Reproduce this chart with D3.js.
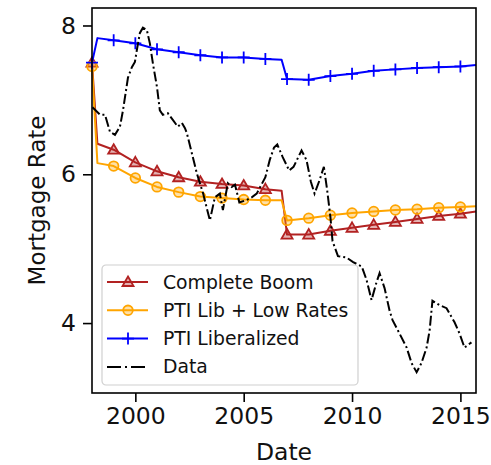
<!DOCTYPE html>
<html>
<head>
<meta charset="utf-8">
<script src="https://cdn.jsdelivr.net/npm/d3@7"></script>
<style>
  body { margin: 0; background: #fff; }
  text { font-family: "DejaVu Sans", sans-serif; fill: #111; }
</style>
</head>
<body>
<div class="graph-container"></div>
<script>
const width = 491,
    height = 465;

const margin = { top: 8, right: 15, bottom: 72, left: 92 };

// model dates (decimal years) shared by the three simulated series
const modelYears = [1998, 1998.25, 1999, 2000, 2001, 2002, 2003, 2004, 2005, 2006, 2006.75,
    2007, 2008, 2009, 2010, 2011, 2012, 2013, 2014, 2015, 2015.72];
const completeBoom = [7.5, 6.41, 6.33, 6.16, 6.04, 5.96, 5.90, 5.87, 5.85, 5.80, 5.78,
    5.19, 5.19, 5.24, 5.28, 5.32, 5.36, 5.40, 5.44, 5.47, 5.50];
const ptiLibLowRates = [7.45, 6.15, 6.11, 5.95, 5.83, 5.76, 5.70, 5.68, 5.66, 5.65, 5.65,
    5.38, 5.41, 5.45, 5.48, 5.50, 5.52, 5.53, 5.55, 5.56, 5.57];
const ptiLiberalized = [7.5, 7.83, 7.80, 7.76, 7.68, 7.64, 7.60, 7.57, 7.57, 7.55, 7.54,
    7.28, 7.27, 7.32, 7.35, 7.39, 7.41, 7.43, 7.44, 7.45, 7.47];

// observed mortgage rate
const dataYears = [1998.02, 1998.37, 1998.6, 1998.83, 1999.06, 1999.29, 1999.43, 1999.66, 1999.84, 1999.98,
    2000.07, 2000.21, 2000.35, 2000.53, 2000.67, 2000.81, 2001.0, 2001.13, 2001.27, 2001.5,
    2001.73, 2001.96, 2002.15, 2002.29, 2002.38, 2002.61, 2002.84, 2003.12, 2003.44, 2003.67,
    2003.9, 2004.04, 2004.27, 2004.45, 2004.6, 2004.8, 2005.1, 2005.37, 2005.6, 2005.8,
    2006.0, 2006.2, 2006.4, 2006.55, 2006.8, 2007.1, 2007.3, 2007.67, 2007.9, 2008.1,
    2008.27, 2008.5, 2008.7, 2008.85, 2009.0, 2009.1, 2009.35, 2009.75, 2010.05, 2010.45,
    2010.67, 2010.9, 2011.13, 2011.27, 2011.5, 2011.73, 2011.87, 2012.19, 2012.52, 2012.75,
    2012.98, 2013.2, 2013.44, 2013.58, 2013.71, 2014.04, 2014.36, 2014.73, 2014.96, 2015.19, 2015.51];
const dataRates = [6.9, 6.8, 6.8, 6.57, 6.53, 6.64, 6.86, 7.3, 7.44, 7.51,
    7.67, 7.9, 7.97, 7.94, 7.76, 7.49, 7.17, 6.86, 6.8, 6.82,
    6.73, 6.64, 6.69, 6.62, 6.55, 6.28, 6.01, 5.75, 5.38, 5.69,
    5.74, 5.52, 5.88, 5.83, 5.86, 5.62, 5.65, 5.69, 5.74, 5.85,
    5.96, 6.19, 6.36, 6.4, 6.23, 6.05, 6.1, 6.32, 6.19, 5.9,
    5.74, 5.92, 6.1, 5.79, 5.43, 5.1, 4.9, 4.88, 4.82, 4.76,
    4.58, 4.31, 4.55, 4.67, 4.47, 4.17, 4.04, 3.86, 3.67, 3.46,
    3.34, 3.46, 3.67, 3.9, 4.3, 4.24, 4.2, 4.01, 3.86, 3.67, 3.74];

const xTicks = [2000, 2005, 2010, 2015];
const yTicks = [4, 6, 8];
const legendLabels = ["Complete Boom", "PTI Lib + Low Rates", "PTI Liberalized", "Data"];

const series = [
    { name: legendLabels[0], values: completeBoom, color: "#b22222", marker: "triangle" },
    { name: legendLabels[1], values: ptiLibLowRates, color: "#ffa500", marker: "circle" },
    { name: legendLabels[2], values: ptiLiberalized, color: "#0000ff", marker: "plus" }
];

const svg = d3.select(".graph-container")
    .append("svg")
    .attr("width", width)
    .attr("height", height);

const x = d3.scaleLinear()
    .domain([1998, 2015.72])
    .range([margin.left, width - margin.right]);

const y = d3.scaleLinear()
    .domain([3.06, 8.235])
    .range([height - margin.bottom, margin.top]);

const line = d3.line()
    .x(d => x(d[0]))
    .y(d => y(d[1]));

// markers
function drawMarker(g, type, color) {
    if (type === "triangle") {
        g.append("path")
            .attr("d", "M0,-5.5L5.5,4L-5.5,4Z")
            .attr("fill", color).attr("fill-opacity", 0.35)
            .attr("stroke", color).attr("stroke-width", 1.8);
    } else if (type === "circle") {
        g.append("circle")
            .attr("r", 4.8)
            .attr("fill", color).attr("fill-opacity", 0.35)
            .attr("stroke", color).attr("stroke-width", 1.8);
    } else {
        g.append("path")
            .attr("d", "M-6,0H6M0,-6V6")
            .attr("stroke", color).attr("stroke-width", 1.8);
    }
}

const plot = svg.append("g");

series.forEach(s => {
    const pts = modelYears.map((t, i) => [t, s.values[i]]);
    plot.append("path")
        .datum(pts)
        .attr("d", line)
        .attr("fill", "none")
        .attr("stroke", s.color)
        .attr("stroke-width", 2)
        .attr("stroke-linejoin", "round");

    // one marker per year
    pts.filter(d => Number.isInteger(d[0])).forEach(d => {
        const g = plot.append("g")
            .attr("transform", `translate(${x(d[0])}, ${y(d[1])})`);
        drawMarker(g, s.marker, s.color);
    });
});

plot.append("path")
    .datum(dataYears.map((t, i) => [t, dataRates[i]]))
    .attr("d", line)
    .attr("fill", "none")
    .attr("stroke", "#000")
    .attr("stroke-width", 2)
    .attr("stroke-dasharray", "10,3,2,3");

// axes
const xAxis = svg.append("g")
    .attr("transform", `translate(0, ${height - margin.bottom})`)
    .call(d3.axisBottom(x).tickValues(xTicks).tickFormat(d3.format("d")).tickSize(9).tickPadding(5));

const yAxis = svg.append("g")
    .attr("transform", `translate(${margin.left}, 0)`)
    .call(d3.axisLeft(y).tickValues(yTicks).tickFormat(d3.format("d")).tickSize(9).tickPadding(7));

[xAxis, yAxis].forEach(a => {
    a.select(".domain").remove();
    a.selectAll(".tick line").attr("stroke", "#000").attr("stroke-width", 1.6);
    a.selectAll(".tick text")
        .style("font-family", "DejaVu Sans")
        .style("font-size", "23.5px")
        .attr("fill", "#111");
});

// frame
svg.append("rect")
    .attr("x", margin.left)
    .attr("y", margin.top)
    .attr("width", width - margin.left - margin.right)
    .attr("height", height - margin.top - margin.bottom)
    .attr("fill", "none")
    .attr("stroke", "#000")
    .attr("stroke-width", 1.6);

svg.append("text")
    .text("Date")
    .attr("x", (margin.left + width - margin.right) / 2)
    .attr("y", 460)
    .attr("text-anchor", "middle")
    .style("font-size", "23.5px");

svg.append("text")
    .text("Mortgage Rate")
    .attr("transform", `translate(45, ${(margin.top + height - margin.bottom) / 2}) rotate(-90)`)
    .attr("text-anchor", "middle")
    .style("font-size", "23px");

// legend
const legend = svg.append("g")
    .attr("transform", "translate(102, 265)");

legend.append("rect")
    .attr("width", 256)
    .attr("height", 120)
    .attr("rx", 4)
    .attr("fill", "#fff")
    .attr("fill-opacity", 0.8)
    .attr("stroke", "#d0d0d0")
    .attr("stroke-width", 1.2);

legendLabels.forEach((label, i) => {
    const row = legend.append("g")
        .attr("transform", `translate(0, ${17 + i * 28.3})`);
    const s = series[i];
    row.append("line")
        .attr("x1", 5).attr("x2", 46)
        .attr("stroke", s ? s.color : "#000")
        .attr("stroke-width", 2)
        .attr("stroke-dasharray", s ? null : "14,4,2,4");
    if (s) {
        const g = row.append("g").attr("transform", "translate(26, 0)");
        drawMarker(g, s.marker, s.color);
    }
    row.append("text")
        .text(label)
        .attr("x", 61)
        .attr("dy", "0.35em")
        .style("font-size", "18.8px");
});
</script>
</body>
</html>
